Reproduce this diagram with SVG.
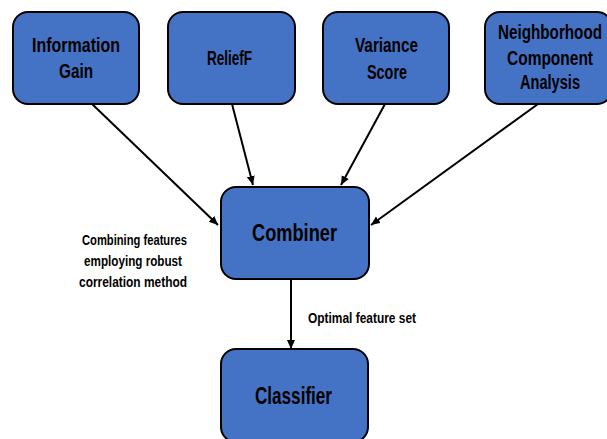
<svg xmlns="http://www.w3.org/2000/svg" width="607" height="439" viewBox="0 0 607 439">
<style>
.box{fill:#4472C4;stroke:#000;stroke-width:2}
.t{font-family:"Liberation Sans",Arial,sans-serif;font-weight:bold;fill:#000}
.n{font-size:20px}
.big{font-size:24px}
.lbl{font-size:15px}
.edge{stroke:#000;stroke-width:2;fill:none;marker-end:url(#ah)}
</style>
<defs>
<marker id="ah" markerUnits="userSpaceOnUse" markerWidth="10" markerHeight="10" refX="9" refY="4" orient="auto">
<path d="M0,0 L9,4 L0,8 Z" fill="#000"/>
</marker>
</defs>
<rect width="607" height="439" fill="#fff"/>
<g id="connectors">
<line class="edge" x1="91" y1="103" x2="218" y2="225"/>
<line class="edge" x1="232" y1="104" x2="253" y2="185"/>
<line class="edge" x1="385" y1="104" x2="341" y2="185"/>
<line class="edge" x1="538" y1="104" x2="371" y2="225"/>
<line class="edge" x1="291" y1="279" x2="291" y2="349"/>
</g>
<g id="n-infogain">
<rect class="box" x="13" y="12" width="126" height="92" rx="15"/>
<text class="t n" x="32" y="52" textLength="88" lengthAdjust="spacingAndGlyphs">Information</text>
<text class="t n" x="59" y="78" textLength="34" lengthAdjust="spacingAndGlyphs">Gain</text>
</g>
<g id="n-relieff">
<rect class="box" x="168" y="12" width="127" height="92" rx="15"/>
<text class="t n" x="207" y="65" textLength="45" lengthAdjust="spacingAndGlyphs">ReliefF</text>
</g>
<g id="n-variance">
<rect class="box" x="323" y="12" width="126" height="92" rx="15"/>
<text class="t n" x="355" y="52" textLength="63" lengthAdjust="spacingAndGlyphs">Variance</text>
<text class="t n" x="367" y="79" textLength="40" lengthAdjust="spacingAndGlyphs">Score</text>
</g>
<g id="n-nca">
<rect class="box" x="485" y="12" width="127" height="92" rx="15"/>
<text class="t n" x="498" y="39" textLength="104" lengthAdjust="spacingAndGlyphs">Neighborhood</text>
<text class="t n" x="507" y="65" textLength="86" lengthAdjust="spacingAndGlyphs">Component</text>
<text class="t n" x="520" y="89" textLength="60" lengthAdjust="spacingAndGlyphs">Analysis</text>
</g>
<g id="n-combiner">
<rect class="box" x="221" y="187" width="148" height="92" rx="15"/>
<text class="t big" x="252" y="241" textLength="85" lengthAdjust="spacingAndGlyphs">Combiner</text>
</g>
<g id="n-classifier">
<rect class="box" x="221" y="349" width="147" height="93" rx="15"/>
<text class="t big" x="255" y="404" textLength="77" lengthAdjust="spacingAndGlyphs">Classifier</text>
</g>
<g id="labels">
<text class="t lbl" x="82" y="245" textLength="105" lengthAdjust="spacingAndGlyphs">Combining features</text>
<text class="t lbl" x="84" y="266" textLength="98" lengthAdjust="spacingAndGlyphs">employing robust</text>
<text class="t lbl" x="79" y="287" textLength="108" lengthAdjust="spacingAndGlyphs">correlation method</text>
<text class="t lbl" x="308" y="323" textLength="108" lengthAdjust="spacingAndGlyphs">Optimal feature set</text>
</g>
</svg>
